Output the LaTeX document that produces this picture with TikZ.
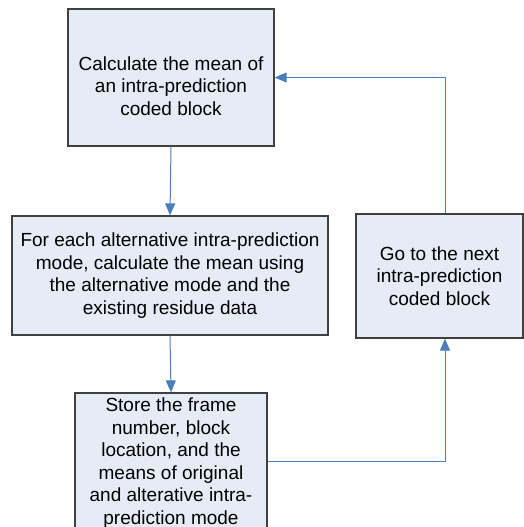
\documentclass[tikz,border=0pt]{standalone}
\usepackage{fontspec}
\setmainfont{Liberation Sans}
\usetikzlibrary{arrows.meta}
\definecolor{boxfill}{HTML}{E6ECF6}
\definecolor{boxline}{HTML}{404040}
\definecolor{flowline}{HTML}{4A7EBB}
\begin{document}
\begin{tikzpicture}[x=1pt,y=-1pt]

\tikzset{
  nod_b/.style = {align=center, inner sep=3pt, text centered,
    font=\fontsize{19}{22.5}\selectfont, rectangle, draw=boxline,
    fill=boxfill, line width=1.3pt},
  lin_f/.style = {draw=flowline, line width=1pt,
    -{Triangle[width=10pt,length=12pt]}}
}
\useasboundingbox (0,0) rectangle (524,527);

\node [nod_b, minimum width=206, minimum height=137] (calc) at (171,77.5)
  {\\[8pt]Calculate the mean of\\an intra-prediction\\coded block};
\node [nod_b, minimum width=316, minimum height=119] (each) at (170,275.5)
  {For each alternative intra-prediction\\mode, calculate the mean using\\the alternative mode and the\\existing residue data};
\node [nod_b, minimum width=192, minimum height=140] (store) at (171,463)
  {Store the frame\\number, block\\location, and the\\means of original\\and alterative intra-\\prediction mode};
\node [nod_b, minimum width=167, minimum height=124] (next) at (439.5,276)
  {Go to the next\\intra-prediction\\coded block};

\draw [lin_f] (calc.south) -- (each.north);
\draw [lin_f] (each.south) -- (store.north);
\draw [lin_f] (store.east |- 0,461) -| (445,0 |- next.south);
\draw [lin_f] (445,0 |- next.north) |- (calc.east);

\end{tikzpicture}
\end{document}
